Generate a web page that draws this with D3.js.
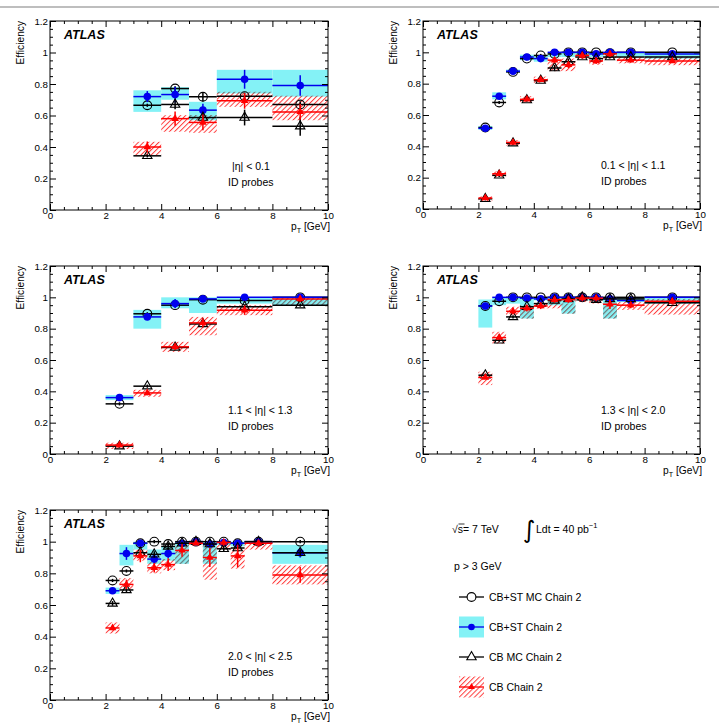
<!DOCTYPE html>
<html><head><meta charset="utf-8">
<script src="https://cdn.jsdelivr.net/npm/d3@7"></script>
<style>body{margin:0;background:#fff} svg{display:block;font-family:"Liberation Sans",Arial,sans-serif}</style>
</head><body><svg id="c" width="719" height="728"></svg>
<script>
// ---------- DATA ----------
const edges1 = [3,4,5,6,8,10];
const edges2 = [2,2.5,3,3.5,4,4.5,5,5.5,6,6.5,7,8,10];
const edges3 = [2,3,4,5,6,8,10];
const xMajor = [0,2,4,6,8,10];
const yMajor = [0,0.2,0.4,0.6,0.8,1,1.2];
const etaLabels = ["|\u03b7| < 0.1","0.1 < |\u03b7| < 1.1","1.1 < |\u03b7| < 1.3","1.3 < |\u03b7| < 2.0","2.0 < |\u03b7| < 2.5"];
const legendLabels = ["CB+ST MC Chain 2","CB+ST Chain 2","CB MC Chain 2","CB Chain 2"];

// panel 1 : |eta| < 0.1
const cbstMC1 = [0.665,0.771,0.719,0.723,0.67];
const cbstMCErr1 = [0.01,0.015,0.03,0.02,0.02];
const cbst1 = [0.72,0.733,0.634,0.83,0.79];
const cbstErr1 = [0.035,0.05,0.04,0.06,0.065];
const cbstSysLo1 = [0.623,0.70,0.57,0.74,0.72];
const cbstSysHi1 = [0.76,0.78,0.687,0.89,0.89];
const cbMC1 = [0.344,0.67,0.587,0.587,0.532];
const cbMCErr1 = [0.01,0.03,0.03,0.05,0.06];
const cb1 = [0.40,0.58,0.556,0.693,0.623];
const cbErr1 = [0.035,0.045,0.05,0.05,0.05];
const cbSysLo1 = [0.349,0.497,0.49,0.655,0.57];
const cbSysHi1 = [0.433,0.602,0.603,0.75,0.725];

// panel 2 : 0.1 < |eta| < 1.1
const cbstMC2 = [0.52,0.68,0.875,0.96,0.98,0.99,1.0,1.0,1.0,0.995,1.0,1.0];
const cbstMCErr2 = [0.01,0.01,0.01,0.01,0.01,0.01,0.01,0.01,0.01,0.01,0.01,0.01];
const cbst2 = [0.515,0.72,0.88,0.97,0.96,1.0,1.0,1.0,0.99,1.0,1.0,0.99];
const cbstErr2 = [0.01,0.01,0.01,0.01,0.01,0.01,0.01,0.01,0.01,0.01,0.01,0.01];
const cbstSysLo2 = [0.505,0.70,0.87,0.95,0.94,0.97,0.97,0.98,0.97,0.98,0.97,0.96];
const cbstSysHi2 = [0.53,0.745,0.89,0.985,0.98,1.0,1.0,1.0,1.0,1.0,1.0,0.995];
const cbMC2 = [0.065,0.215,0.42,0.695,0.82,0.9,0.94,0.97,0.96,0.97,0.97,0.97];
const cbMCErr2 = [0.01,0.01,0.01,0.01,0.01,0.02,0.02,0.01,0.01,0.01,0.01,0.01];
const cb2 = [0.07,0.225,0.425,0.70,0.825,0.95,0.92,0.98,0.945,0.99,0.95,0.945];
const cbErr2 = [0.01,0.01,0.01,0.01,0.01,0.02,0.02,0.02,0.02,0.02,0.01,0.01];
const cbSysLo2 = [0.05,0.205,0.405,0.68,0.805,0.88,0.88,0.96,0.92,0.96,0.93,0.918];
const cbSysHi2 = [0.08,0.24,0.44,0.72,0.845,0.96,0.96,1.0,0.97,1.0,0.97,0.971];

// panel 3 : 1.1 < |eta| < 1.3
const cbstMC3 = [0.32,0.895,0.95,0.985,0.98,1.0];
const cbstMCErr3 = [0.01,0.01,0.01,0.01,0.01,0.01];
const cbst3 = [0.36,0.875,0.96,0.99,1.0,1.0];
const cbstErr3 = [0.01,0.02,0.03,0.01,0.01,0.01];
const cbstSysLo3 = [0.344,0.80,0.93,0.90,0.96,0.95];
const cbstSysHi3 = [0.376,0.92,1.0,1.0,1.0,1.0];
const cbMC3 = [0.05,0.433,0.68,0.83,0.94,0.95];
const cbMCErr3 = [0.01,0.01,0.01,0.01,0.01,0.01];
const cb3 = [0.057,0.39,0.684,0.837,0.918,0.99];
const cbErr3 = [0.01,0.015,0.02,0.03,0.03,0.02];
const cbSysLo3 = [0.032,0.365,0.652,0.758,0.886,0.95];
const cbSysHi3 = [0.072,0.41,0.716,0.875,0.95,1.0];

// panel 4 : 1.3 < |eta| < 2.0
const cbstMC4 = [0.945,0.975,1.0,1.0,1.0,1.0,1.0,1.0,1.0,1.0,1.0,1.0];
const cbstMCErr4 = [0.01,0.01,0.01,0.01,0.01,0.01,0.01,0.01,0.01,0.01,0.01,0.01];
const cbst4 = [0.945,1.0,1.0,0.995,0.99,1.0,1.0,1.0,1.0,0.99,0.98,1.0];
const cbstErr4 = [0.01,0.01,0.01,0.01,0.01,0.01,0.01,0.01,0.01,0.01,0.01,0.01];
const cbstSysLo4 = [0.807,0.95,0.96,0.865,0.98,0.95,0.896,0.98,0.98,0.865,0.97,0.96];
const cbstSysHi4 = [0.986,1.0,1.0,1.0,1.0,1.0,1.0,1.0,1.0,1.0,1.0,1.0];
const cbMC4 = [0.503,0.726,0.875,0.94,0.96,0.98,0.99,1.0,0.985,0.99,0.99,0.965];
const cbMCErr4 = [0.01,0.01,0.01,0.01,0.01,0.01,0.01,0.01,0.01,0.01,0.01,0.01];
const cb4 = [0.489,0.743,0.911,0.93,0.945,0.985,0.985,0.995,0.995,0.956,0.95,0.975];
const cbErr4 = [0.01,0.01,0.02,0.02,0.02,0.02,0.02,0.02,0.02,0.03,0.02,0.02];
const cbSysLo4 = [0.44,0.705,0.886,0.865,0.93,0.93,0.896,0.97,0.96,0.865,0.92,0.89];
const cbSysHi4 = [0.525,0.78,0.94,0.95,0.96,1.0,0.96,1.0,1.0,0.95,0.97,0.99];

// panel 5 : 2.0 < |eta| < 2.5
const cbstMC5 = [0.755,0.815,0.99,1.0,0.985,1.0,1.0,1.0,1.0,0.99,1.0,1.0];
const cbstMCErr5 = [0.01,0.01,0.01,0.01,0.01,0.01,0.01,0.01,0.01,0.01,0.01,0.01];
const cbst5 = [0.69,0.925,0.99,0.89,0.925,0.99,1.0,0.985,0.995,0.99,1.0,0.93];
const cbstErr5 = [0.01,0.04,0.01,0.03,0.03,0.02,0.01,0.02,0.01,0.01,0.01,0.03];
const cbstSysLo5 = [0.67,0.85,0.95,0.86,0.88,0.86,0.99,0.86,0.98,0.97,0.99,0.86];
const cbstSysHi5 = [0.71,0.98,1.0,0.95,0.97,1.0,1.0,1.0,1.0,1.0,1.0,0.98];
const cbMC5 = [0.61,0.695,0.93,0.92,0.97,0.99,1.0,0.985,0.955,0.96,1.0,0.93];
const cbMCErr5 = [0.015,0.015,0.02,0.02,0.02,0.01,0.01,0.01,0.02,0.02,0.01,0.02];
const cb5 = [0.455,0.73,0.91,0.835,0.855,0.945,0.99,0.90,0.995,0.91,0.99,0.79];
const cbErr5 = [0.015,0.03,0.04,0.03,0.04,0.04,0.01,0.06,0.02,0.07,0.02,0.05];
const cbSysLo5 = [0.42,0.70,0.88,0.80,0.82,0.86,0.98,0.76,0.95,0.83,0.95,0.73];
const cbSysHi5 = [0.49,0.77,0.95,0.87,0.89,0.99,1.0,0.99,1.0,0.96,1.0,0.85];

const panels = [
  {edges:edges1, label:etaLabels[0], cbstMC:cbstMC1, cbstMCErr:cbstMCErr1, cbst:cbst1, cbstErr:cbstErr1, cbstLo:cbstSysLo1, cbstHi:cbstSysHi1, cbMC:cbMC1, cbMCErr:cbMCErr1, cb:cb1, cbErr:cbErr1, cbLo:cbSysLo1, cbHi:cbSysHi1},
  {edges:edges2, label:etaLabels[1], cbstMC:cbstMC2, cbstMCErr:cbstMCErr2, cbst:cbst2, cbstErr:cbstErr2, cbstLo:cbstSysLo2, cbstHi:cbstSysHi2, cbMC:cbMC2, cbMCErr:cbMCErr2, cb:cb2, cbErr:cbErr2, cbLo:cbSysLo2, cbHi:cbSysHi2},
  {edges:edges3, label:etaLabels[2], cbstMC:cbstMC3, cbstMCErr:cbstMCErr3, cbst:cbst3, cbstErr:cbstErr3, cbstLo:cbstSysLo3, cbstHi:cbstSysHi3, cbMC:cbMC3, cbMCErr:cbMCErr3, cb:cb3, cbErr:cbErr3, cbLo:cbSysLo3, cbHi:cbSysHi3},
  {edges:edges2, label:etaLabels[3], cbstMC:cbstMC4, cbstMCErr:cbstMCErr4, cbst:cbst4, cbstErr:cbstErr4, cbstLo:cbstSysLo4, cbstHi:cbstSysHi4, cbMC:cbMC4, cbMCErr:cbMCErr4, cb:cb4, cbErr:cbErr4, cbLo:cbSysLo4, cbHi:cbSysHi4},
  {edges:edges2, label:etaLabels[4], cbstMC:cbstMC5, cbstMCErr:cbstMCErr5, cbst:cbst5, cbstErr:cbstErr5, cbstLo:cbstSysLo5, cbstHi:cbstSysHi5, cbMC:cbMC5, cbMCErr:cbMCErr5, cb:cb5, cbErr:cbErr5, cbLo:cbSysLo5, cbHi:cbSysHi5}
];

// ---------- LAYOUT ----------
const frames = [
  {left:50, top:21, right:328, bottom:210, etaX:232},
  {left:423, top:21, right:700, bottom:209},
  {left:50, top:266, right:328, bottom:454},
  {left:423, top:266, right:700, bottom:454},
  {left:50, top:510, right:328, bottom:700}
];
const CYAN = "#84f2f6", BLUE = "#0000ee", RED = "#ff0000", HATCH = "#ff3c3c", HATCH_OVER = "#4f9494";

const svg = d3.select("#c");
const defs = svg.append("defs");
function makeHatch(id, color) {
  const pat = defs.append("pattern").attr("id",id).attr("patternUnits","userSpaceOnUse")
    .attr("width",3.6).attr("height",3.6).attr("patternTransform","rotate(45)");
  pat.append("rect").attr("x",0).attr("y",0).attr("width",1).attr("height",3.6).attr("fill",color);
}
makeHatch("hatch", HATCH);
makeHatch("hatchOver", HATCH_OVER);

svg.append("line").attr("x1",0).attr("x2",719).attr("y1",7).attr("y2",7)
  .attr("stroke","#a8a8a8").attr("stroke-width",1.5);

const triSym = s => d3.symbol(d3.symbolTriangle, s)();

function drawPanel(p, f) {
  const x = d3.scaleLinear().domain([0,10]).range([f.left,f.right]);
  const y = d3.scaleLinear().domain([0,1.2]).range([f.bottom,f.top]);
  const g = svg.append("g");
  const bins = p.edges.slice(0,-1).map((e,i)=>({lo:e, hi:p.edges[i+1], c:(e+p.edges[i+1])/2, i}));

  // systematic boxes
  g.selectAll(".cy").data(bins).join("rect")
    .attr("x",d=>x(d.lo)).attr("width",d=>x(d.hi)-x(d.lo))
    .attr("y",d=>y(p.cbstHi[d.i])).attr("height",d=>y(p.cbstLo[d.i])-y(p.cbstHi[d.i]))
    .attr("fill",CYAN);
  g.selectAll(".rh").data(bins).join("rect")
    .attr("x",d=>x(d.lo)).attr("width",d=>x(d.hi)-x(d.lo))
    .attr("y",d=>y(p.cbHi[d.i])).attr("height",d=>y(p.cbLo[d.i])-y(p.cbHi[d.i]))
    .attr("fill","url(#hatch)");
  // hatch seen through the cyan band looks teal-grey
  const ov = bins.map(d=>({...d, top:Math.min(p.cbHi[d.i],p.cbstHi[d.i]), bot:Math.max(p.cbLo[d.i],p.cbstLo[d.i])})).filter(d=>d.top>d.bot);
  g.selectAll(".ov").data(ov).join("rect")
    .attr("x",d=>x(d.lo)).attr("width",d=>x(d.hi)-x(d.lo))
    .attr("y",d=>y(d.top)).attr("height",d=>y(d.bot)-y(d.top))
    .attr("fill","url(#hatchOver)");

  function series(vals, errs, color, marker) {
    const s = g.append("g");
    s.selectAll(".h").data(bins).join("line")
      .attr("x1",d=>x(d.lo)).attr("x2",d=>x(d.hi))
      .attr("y1",d=>y(vals[d.i])).attr("y2",d=>y(vals[d.i]))
      .attr("stroke",color).attr("stroke-width",1.5);
    s.selectAll(".v").data(bins).join("line")
      .attr("x1",d=>x(d.c)).attr("x2",d=>x(d.c))
      .attr("y1",d=>y(vals[d.i]-errs[d.i])).attr("y2",d=>y(vals[d.i]+errs[d.i]))
      .attr("stroke",color).attr("stroke-width",1.5);
    if (marker==="ocirc") {
      s.selectAll(".m").data(bins).join("circle").attr("cx",d=>x(d.c)).attr("cy",d=>y(vals[d.i]))
        .attr("r",4.4).attr("fill","none").attr("stroke","#000").attr("stroke-width",1.1);
    } else if (marker==="fcirc") {
      s.selectAll(".m").data(bins).join("circle").attr("cx",d=>x(d.c)).attr("cy",d=>y(vals[d.i]))
        .attr("r",3.8).attr("fill",color);
    } else if (marker==="otri") {
      s.selectAll(".m").data(bins).join("path").attr("transform",d=>`translate(${x(d.c)},${y(vals[d.i])})`)
        .attr("d",triSym(38)).attr("fill","none").attr("stroke","#000").attr("stroke-width",1.1);
    } else {
      s.selectAll(".m").data(bins).join("path").attr("transform",d=>`translate(${x(d.c)},${y(vals[d.i])})`)
        .attr("d",triSym(26)).attr("fill",color);
    }
  }
  series(p.cbstMC, p.cbstMCErr, "#000", "ocirc");
  series(p.cbst, p.cbstErr, BLUE, "fcirc");
  series(p.cbMC, p.cbMCErr, "#000", "otri");
  series(p.cb, p.cbErr, RED, "ftri");

  // axes
  const xMinor = d3.range(0,10.01,0.5).filter(v=>!xMajor.includes(v));
  const yMinor = d3.range(0,1.2001,0.05).map(v=>+v.toFixed(2)).filter(v=>!yMajor.some(m=>Math.abs(m-v)<1e-6));
  const style = sel => { sel.select(".domain").remove(); sel.selectAll("line").attr("stroke","#000"); sel.selectAll("text").attr("font-size",9.8).attr("font-family","'Liberation Sans',Arial,sans-serif").attr("fill","#000"); };
  g.append("g").attr("transform",`translate(0,${f.bottom})`)
    .call(d3.axisBottom(x).tickValues(xMajor).tickSize(-6).tickPadding(2).tickFormat(d3.format("d"))).call(style);
  g.append("g").attr("transform",`translate(0,${f.bottom})`)
    .call(d3.axisBottom(x).tickValues(xMinor).tickSize(-3).tickFormat("")).call(style);
  g.append("g").attr("transform",`translate(0,${f.top})`)
    .call(d3.axisTop(x).tickValues(xMajor).tickSize(-6).tickFormat("")).call(style);
  g.append("g").attr("transform",`translate(0,${f.top})`)
    .call(d3.axisTop(x).tickValues(xMinor).tickSize(-3).tickFormat("")).call(style);
  g.append("g").attr("transform",`translate(${f.left},0)`)
    .call(d3.axisLeft(y).tickValues(yMajor).tickSize(-6).tickPadding(2).tickFormat(d=>d===0?"0":d===1?"1":d3.format(".1f")(d))).call(style);
  g.append("g").attr("transform",`translate(${f.left},0)`)
    .call(d3.axisLeft(y).tickValues(yMinor).tickSize(-3).tickFormat("")).call(style);
  g.append("g").attr("transform",`translate(${f.right},0)`)
    .call(d3.axisRight(y).tickValues(yMajor).tickSize(-6).tickFormat("")).call(style);
  g.append("g").attr("transform",`translate(${f.right},0)`)
    .call(d3.axisRight(y).tickValues(yMinor).tickSize(-3).tickFormat("")).call(style);
  g.append("rect").attr("x",f.left).attr("y",f.top).attr("width",f.right-f.left).attr("height",f.bottom-f.top)
    .attr("fill","none").attr("stroke","#000").attr("stroke-width",1);

  // titles
  g.append("text").attr("transform",`translate(${f.left-26},${f.top}) rotate(-90)`)
    .attr("text-anchor","end").attr("font-size",10.2).text("Efficiency");
  const xt = g.append("text").attr("x",f.right+2).attr("y",f.bottom+20).attr("text-anchor","end").attr("font-size",10.2);
  xt.append("tspan").text("p");
  xt.append("tspan").attr("font-size",7.2).attr("dy",3).text("T");
  xt.append("tspan").attr("dy",-3).text(" [GeV]");

  g.append("text").attr("x",f.left+14).attr("y",f.top+18).attr("font-size",12.5)
    .attr("font-weight","bold").attr("font-style","italic").text("ATLAS");
  g.append("text").attr("x",f.etaX!==undefined?f.etaX:f.left+178).attr("y",f.bottom-40).attr("font-size",10.5).text(p.label);
  g.append("text").attr("x",f.left+178).attr("y",f.bottom-24).attr("font-size",10.5).text("ID probes");
}

panels.forEach((p,i)=>drawPanel(p, frames[i]));

// ---------- LEGEND ----------
const lg = svg.append("g").attr("font-size",10.5);
const sq = lg.append("text").attr("x",452).attr("y",533);
sq.append("tspan").text("\u221a");
sq.append("tspan").text("s");
sq.append("tspan").text("= 7 TeV");
lg.append("line").attr("x1",458.5).attr("x2",464.5).attr("y1",524).attr("y2",524).attr("stroke","#000").attr("stroke-width",0.8);
lg.append("text").attr("x",523).attr("y",538).attr("font-size",24).attr("font-family","'DejaVu Sans',sans-serif").text("\u222b");
const ld = lg.append("text").attr("x",536).attr("y",533);
ld.append("tspan").text("Ldt = 40 pb");
ld.append("tspan").attr("font-size",7.5).attr("dy",-5).text("\u22121");
lg.append("text").attr("x",454).attr("y",570).text("p > 3 GeV");

const legRows = [597,627,657,687];
const lx0 = 459, lx1 = 484, lxc = 471.5;
lg.append("rect").attr("x",lx0).attr("y",legRows[1]-10.5).attr("width",lx1-lx0).attr("height",21).attr("fill",CYAN);
lg.append("rect").attr("x",lx0).attr("y",legRows[3]-10.5).attr("width",lx1-lx0).attr("height",21).attr("fill","url(#hatch)");
const legColors = ["#000",BLUE,"#000",RED];
legRows.forEach((ry,i)=>{
  lg.append("line").attr("x1",lx0).attr("x2",lx1).attr("y1",ry).attr("y2",ry).attr("stroke",legColors[i]).attr("stroke-width",1.3);
  lg.append("text").attr("x",489).attr("y",ry+4).text(legendLabels[i]);
});
lg.append("circle").attr("cx",lxc).attr("cy",legRows[0]).attr("r",4.4).attr("fill","#fff").attr("stroke","#000").attr("stroke-width",1.1);
lg.append("circle").attr("cx",lxc).attr("cy",legRows[1]).attr("r",3.3).attr("fill",BLUE);
lg.append("path").attr("transform",`translate(${lxc},${legRows[2]})`).attr("d",triSym(38)).attr("fill","#fff").attr("stroke","#000").attr("stroke-width",1.1);
lg.append("path").attr("transform",`translate(${lxc},${legRows[3]})`).attr("d",triSym(20)).attr("fill",RED);
</script></body></html>
